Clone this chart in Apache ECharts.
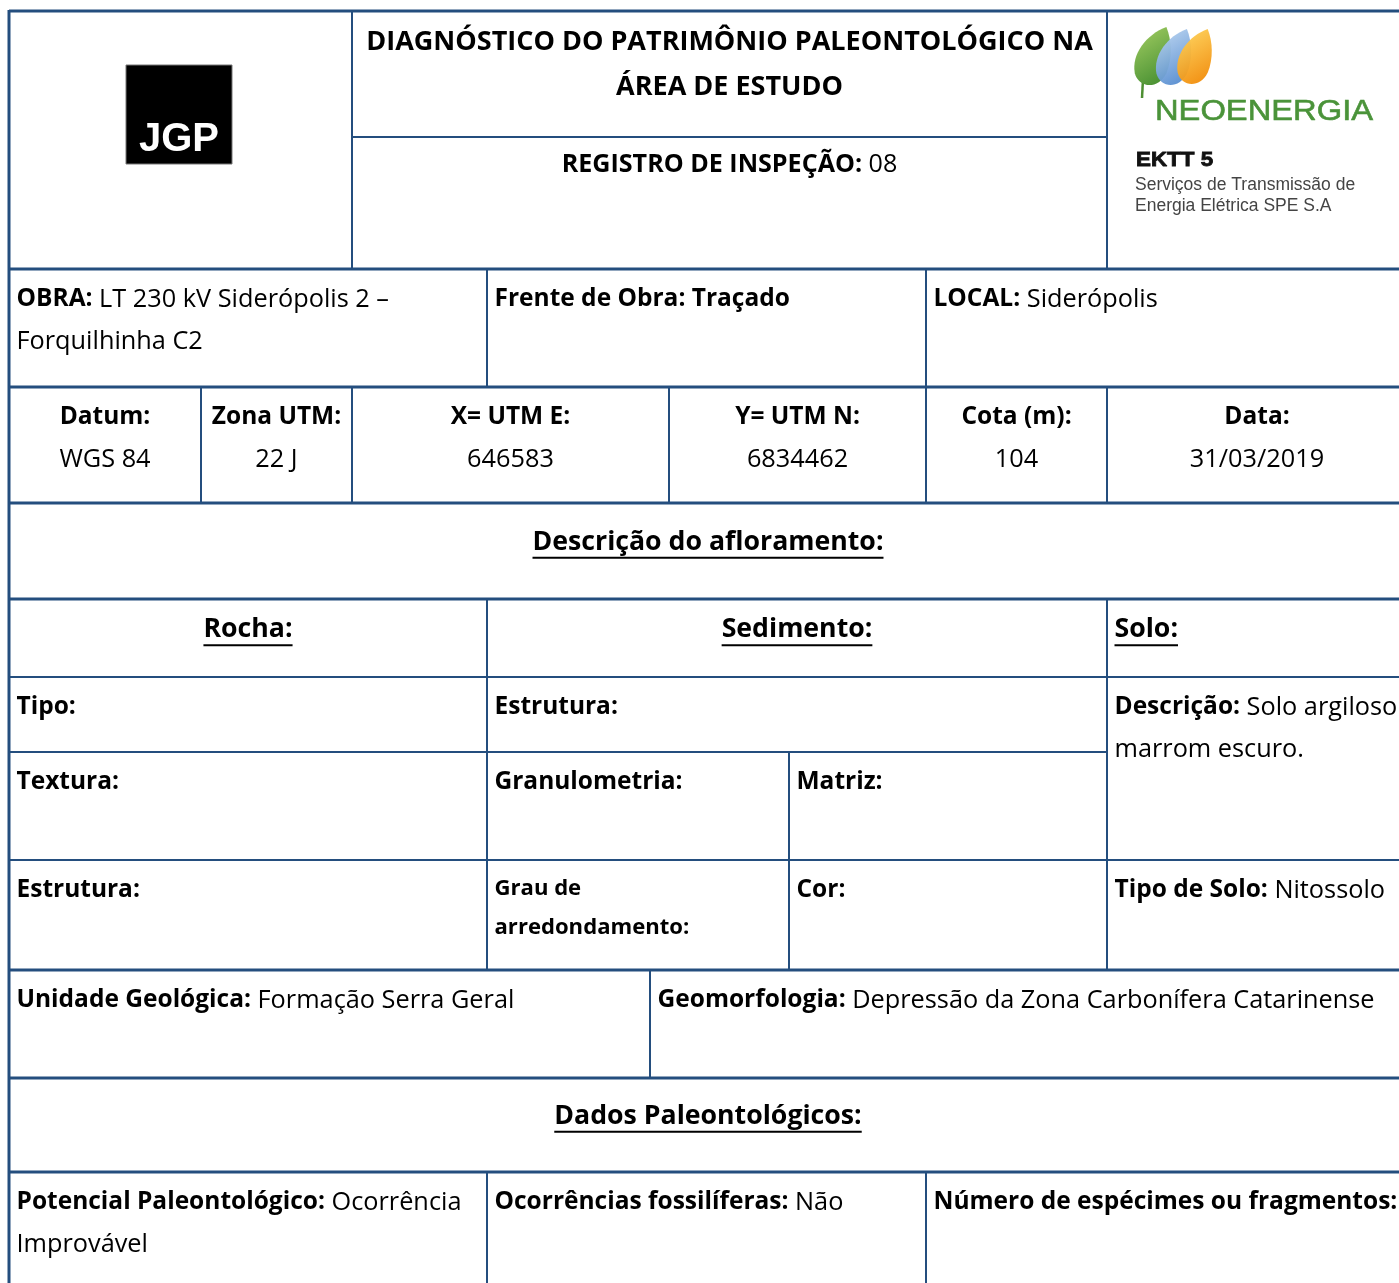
<!DOCTYPE html>
<html><head><meta charset="utf-8">
<script src="https://cdn.jsdelivr.net/npm/echarts@6/dist/echarts.min.js"></script>
<style>html,body{margin:0;padding:0;background:#fff;}#chart{width:1399px;height:1283px;}</style>
</head><body><div id="chart"></div>
<script>
// ===== Content of the form =====
const titleLines = ['DIAGNÓSTICO DO PATRIMÔNIO PALEONTOLÓGICO NA', 'ÁREA DE ESTUDO'];
const inspectionLabel = 'REGISTRO DE INSPEÇÃO:';
const inspectionNumber = '08';
const leftLogoText = 'JGP';
const rightLogoName = 'NEOENERGIA';
const rightLogoLines = ['EKTT 5', 'Serviços de Transmissão de', 'Energia Elétrica SPE S.A'];

const siteLabels = ['OBRA:', 'Frente de Obra: Traçado', 'LOCAL:'];
const siteValues = [['LT 230 kV Siderópolis 2 –', 'Forquilhinha C2'], [], ['Siderópolis']];

const coordLabels = ['Datum:', 'Zona UTM:', 'X= UTM E:', 'Y= UTM N:', 'Cota (m):', 'Data:'];
const coordValues = ['WGS 84', '22 J', '646583', '6834462', '104', '31/03/2019'];

const sectionTitles = ['Descrição do afloramento:', 'Dados Paleontológicos:'];
const groupTitles = ['Rocha:', 'Sedimento:', 'Solo:'];

const rockLabels = ['Tipo:', 'Textura:', 'Estrutura:'];
const sedimentLabels = ['Estrutura:', 'Granulometria:', 'Matriz:', ['Grau de', 'arredondamento:'], 'Cor:'];
const soilLabels = ['Descrição:', 'Tipo de Solo:'];
const soilValues = [['Solo argiloso', 'marrom escuro.'], ['Nitossolo']];
const geoLabels = ['Unidade Geológica:', 'Geomorfologia:'];
const geoValues = [['Formação Serra Geral'], ['Depressão da Zona Carbonífera Catarinense']];
const paleoLabels = ['Potencial Paleontológico:', 'Ocorrências fossilíferas:', 'Número de espécimes ou fragmentos:'];
const paleoValues = [['Ocorrência', 'Improvável'], ['Não'], []];

// ===== Styling / layout =====
const FONT = '"Open Sans", sans-serif';
const LOGO_FONT = '"Liberation Sans", Arial, sans-serif';
const RULE = '#244E7E';
const W = 1399, H = 1283;
const ctx = document.createElement('canvas').getContext('2d');
function tw(text, bold, size) { ctx.font = (bold ? 'bold ' : '') + size + 'px ' + FONT; return ctx.measureText(text).width; }

const SZ = { labelB: 24.5, headB: 26.7, bodyR: 25.3, title: 27.0, registro: 25.1, small: 22.1 };

const L = 9, R = 1407;
const hRules = [
  [L, 11, R, 3], [352, 137, 1107, 2], [L, 269, R, 3], [L, 387, R, 3], [L, 503, R, 3],
  [L, 599, R, 3], [L, 677, R, 2], [L, 752, 1107, 2], [L, 860, R, 2], [L, 970, R, 3],
  [L, 1078, R, 3], [L, 1172, R, 3]
];
const vRules = [
  [L, 10, H + 5, 3], [352, 11, 269, 2], [1107, 11, 269, 2],
  [487, 269, 387, 2], [926, 269, 387, 2],
  [201, 387, 503, 2], [352, 387, 503, 2], [669, 387, 503, 2], [926, 387, 503, 2], [1107, 387, 503, 2],
  [487, 599, 970, 2], [1107, 599, 970, 2], [789, 752, 970, 2],
  [650, 970, 1078, 2],
  [487, 1172, H + 5, 2], [926, 1172, H + 5, 2]
];

const DY = 30.5, LH = 42.5, PAD = 7.5;
const textItems = [];
function addLine(segs, x0, x1, y, align, underline) {
  const sizes = segs.map(s => s.size || (s.b ? SZ.labelB : SZ.bodyR));
  const widths = segs.map((s, i) => tw(s.t, s.b, sizes[i]));
  const total = widths.reduce((a, b) => a + b, 0);
  let x = align === 'center' ? (x0 + x1) / 2 - total / 2 : x0 + PAD;
  segs.forEach((s, i) => {
    textItems.push({ x: x, y: y, t: s.t, b: s.b, size: sizes[i], ul: underline ? widths[i] : 0 });
    x += widths[i];
  });
}
function labelCell(label, values, x0, x1, y0) {
  values = values || [];
  const first = [{ t: label, b: true }];
  if (values.length) first.push({ t: ' ' + values[0], b: false });
  addLine(first, x0, x1, y0 + DY, 'left');
  for (let i = 1; i < values.length; i++) addLine([{ t: values[i], b: false }], x0, x1, y0 + DY + i * LH, 'left');
}

// header
titleLines.forEach((t, i) => addLine([{ t: t, b: true, size: SZ.title }], 352, 1107, 42.5 + i * 45, 'center'));
addLine([{ t: inspectionLabel, b: true, size: SZ.registro }, { t: ' ' + inspectionNumber, b: false, size: SZ.registro }], 352, 1107, 165, 'center');
// site row
const siteCols = [[L, 487], [487, 926], [926, R]];
siteCols.forEach((c, i) => labelCell(siteLabels[i], siteValues[i], c[0], c[1], 269));
// coordinates row
const coordCols = [[L, 201], [201, 352], [352, 669], [669, 926], [926, 1107], [1107, R]];
coordCols.forEach((c, i) => {
  addLine([{ t: coordLabels[i], b: true }], c[0], c[1], 387 + DY, 'center');
  addLine([{ t: coordValues[i], b: false }], c[0], c[1], 387 + DY + LH, 'center');
});
// section titles
addLine([{ t: sectionTitles[0], b: true, size: SZ.headB }], L, R, 503 + 39, 'center', true);
addLine([{ t: sectionTitles[1], b: true, size: SZ.headB }], L, R, 1078 + 38, 'center', true);
// group titles
addLine([{ t: groupTitles[0], b: true, size: SZ.headB }], L, 487, 599 + DY, 'center', true);
addLine([{ t: groupTitles[1], b: true, size: SZ.headB }], 487, 1107, 599 + DY, 'center', true);
addLine([{ t: groupTitles[2], b: true, size: SZ.headB }], 1107, R, 599 + DY, 'left', true);
// rock column
labelCell(rockLabels[0], [], L, 487, 677);
labelCell(rockLabels[1], [], L, 487, 752);
labelCell(rockLabels[2], [], L, 487, 860);
// sediment columns
labelCell(sedimentLabels[0], [], 487, 1107, 677);
labelCell(sedimentLabels[1], [], 487, 789, 752);
labelCell(sedimentLabels[2], [], 789, 1107, 752);
sedimentLabels[3].forEach((t, i) => addLine([{ t: t, b: true, size: SZ.small }], 487, 789, 860 + 29 + i * 39, 'left'));
labelCell(sedimentLabels[4], [], 789, 1107, 860);
// soil column
labelCell(soilLabels[0], soilValues[0], 1107, R, 677);
labelCell(soilLabels[1], soilValues[1], 1107, R, 860);
// geology
labelCell(geoLabels[0], geoValues[0], L, 650, 970);
labelCell(geoLabels[1], geoValues[1], 650, R, 970);
// paleontology
const paleoCols = [[L, 487], [487, 926], [926, R]];
paleoCols.forEach((c, i) => labelCell(paleoLabels[i], paleoValues[i], c[0], c[1], 1172));

// ===== Chart =====
const leafPath = 'M58,0 C25,12 0,45 6,76 C12,100 44,104 58,76 C68,52 67,22 58,0 Z';
const chart = echarts.init(document.getElementById('chart'), null, { renderer: 'canvas' });
chart.setOption({
  animation: false,
  backgroundColor: '#fff',
  grid: { left: 0, right: 0, top: 0, bottom: 0 },
  xAxis: { type: 'value', min: 0, max: W, show: false },
  yAxis: { type: 'value', min: 0, max: H, inverse: true, show: false },
  series: [
    { // logos
      type: 'custom', silent: true, clip: false,
      data: [[126, 65], [1133, 27]],
      encode: { x: 0, y: 1 },
      renderItem: function (params, api) {
        const p = api.coord([api.value(0), api.value(1)]);
        if (params.dataIndex === 0) {
          return { type: 'group', x: p[0], y: p[1], children: [
            { type: 'rect', shape: { x: 0, y: 0, width: 106, height: 99 }, style: { fill: '#000', stroke: '#777', lineWidth: 1 } },
            { type: 'text', x: 53, y: 75, style: { text: leftLogoText, fontFamily: LOGO_FONT, fontWeight: 'bold', fontSize: 40, fill: '#fff', align: 'center', verticalAlign: 'middle' } }
          ] };
        }
        const grad = (a, b) => new echarts.graphic.LinearGradient(0, 0, 1, 1, [{ offset: 0, color: a }, { offset: 1, color: b }]);
        return { type: 'group', x: p[0], y: p[1], children: [
          { type: 'line', shape: { x1: 10, y1: 52, x2: 9, y2: 71 }, style: { stroke: '#4d8f32', lineWidth: 2.5 } },
          { type: 'path', shape: { pathData: leafPath, x: 0, y: 0, width: 39, height: 58 }, style: { fill: grad('#a5cf63', '#3f8a2e') } },
          { type: 'path', shape: { pathData: leafPath, x: 22, y: 2, width: 37, height: 56 }, style: { fill: grad('#c0d8f2', '#4a84cc'), opacity: 0.95 } },
          { type: 'path', shape: { pathData: leafPath, x: 43, y: 2, width: 37, height: 55 }, style: { fill: grad('#ffd85e', '#f08400'), opacity: 0.95 } },
          { type: 'text', x: 22, y: 85, scaleX: 1.09, style: { text: rightLogoName, fontFamily: LOGO_FONT, fontSize: 30, fill: '#4a9339', stroke: '#4a9339', lineWidth: 0.6, align: 'left', verticalAlign: 'middle' } },
          { type: 'text', x: 3, y: 133, scaleX: 1.12, style: { text: rightLogoLines[0], fontFamily: LOGO_FONT, fontWeight: 'bold', fontSize: 20, fill: '#111', stroke: '#111', lineWidth: 0.8, align: 'left', verticalAlign: 'middle' } },
          { type: 'text', x: 2, y: 158, style: { text: rightLogoLines[1], fontFamily: LOGO_FONT, fontSize: 17.5, fill: '#444', align: 'left', verticalAlign: 'middle' } },
          { type: 'text', x: 2, y: 179, style: { text: rightLogoLines[2], fontFamily: LOGO_FONT, fontSize: 17.5, fill: '#444', align: 'left', verticalAlign: 'middle' } }
        ] };
      }
    },
    { // horizontal rules
      type: 'custom', silent: true, clip: false,
      data: hRules, encode: { x: [0, 2], y: 1 },
      renderItem: function (params, api) {
        const a = api.coord([api.value(0), api.value(1)]), b = api.coord([api.value(2), api.value(1)]);
        const w = api.value(3);
        return { type: 'rect', shape: { x: a[0], y: a[1] - w / 2, width: b[0] - a[0], height: w }, style: { fill: RULE } };
      }
    },
    { // vertical rules
      type: 'custom', silent: true, clip: false,
      data: vRules, encode: { x: 0, y: [1, 2] },
      renderItem: function (params, api) {
        const a = api.coord([api.value(0), api.value(1)]), b = api.coord([api.value(0), api.value(2)]);
        const w = api.value(3);
        return { type: 'rect', shape: { x: a[0] - w / 2, y: a[1], width: w, height: b[1] - a[1] }, style: { fill: RULE } };
      }
    },
    { // texts
      type: 'custom', silent: true, clip: false,
      data: textItems.map(t => [t.x, t.y]), encode: { x: 0, y: 1 },
      renderItem: function (params, api) {
        const it = textItems[params.dataIndex];
        const p = api.coord([api.value(0), api.value(1)]);
        const children = [{ type: 'text', style: { x: 0, y: 0, text: it.t, fontFamily: FONT, fontSize: it.size, fontWeight: it.b ? 'bold' : 'normal', fill: '#000', align: 'left', verticalAlign: 'middle' } }];
        if (it.ul) children.push({ type: 'rect', shape: { x: 0, y: it.size * 0.55, width: it.ul, height: 2 }, style: { fill: '#000' } });
        return { type: 'group', x: p[0], y: p[1], children: children };
      }
    }
  ]
});
</script></body></html>
